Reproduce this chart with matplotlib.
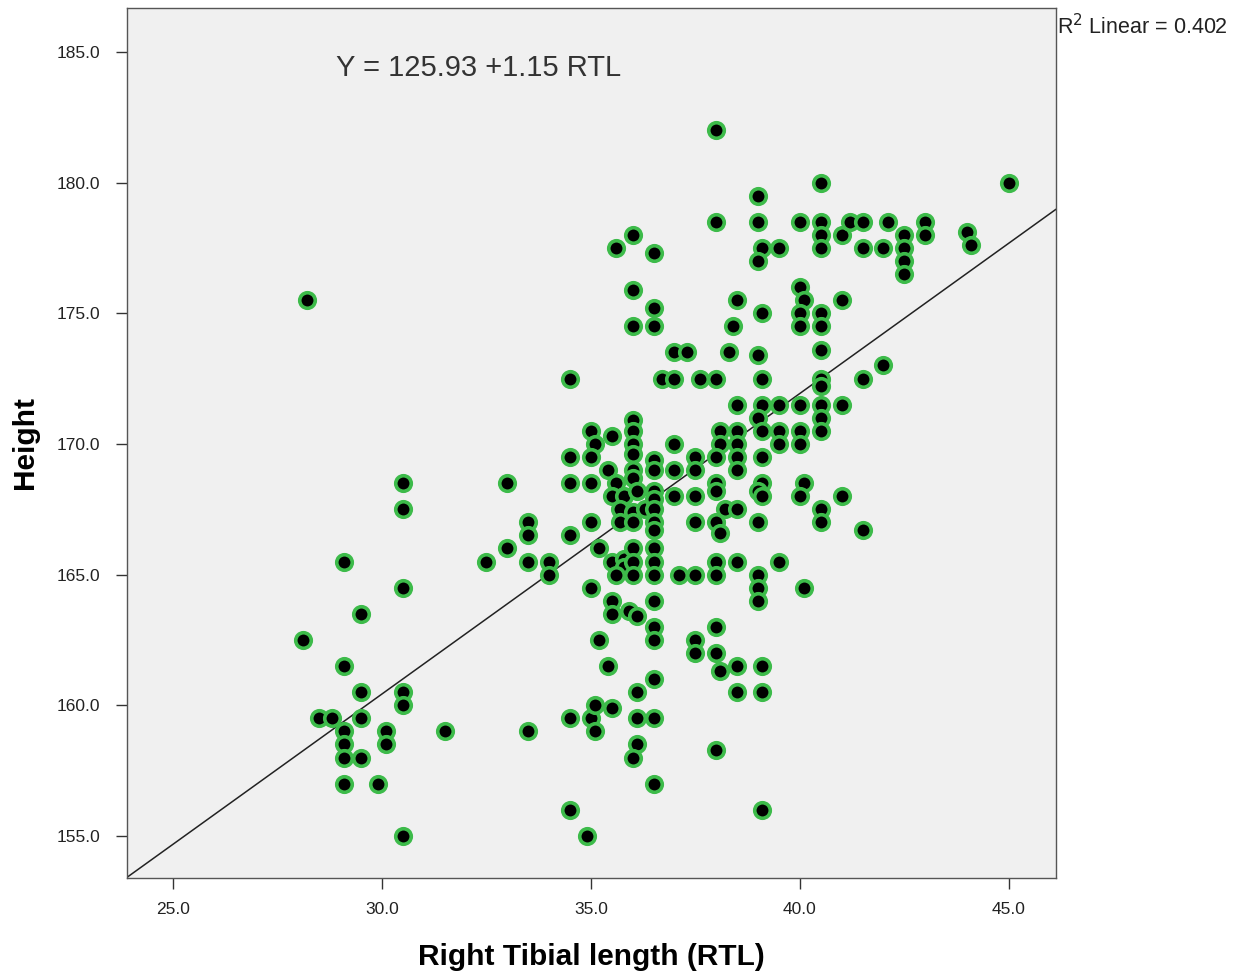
import numpy as np
import matplotlib.pyplot as plt

plt.rcParams['font.family'] = ['Liberation Sans', 'DejaVu Sans']

# Right tibial length (cm) and height (cm)
rtl = [
    28.2, 28.1, 29.1, 29.1, 29.5, 29.5, 28.5, 28.8, 29.5, 29.1, 29.1, 29.1, 29.5, 29.1, 29.9, 30.1, 30.1,
    30.5, 30.5, 30.5, 30.5, 30.5, 30.5, 31.5,
    32.5, 33.0, 33.0, 33.5, 33.5, 33.5, 33.5, 34.0, 34.0, 34.5, 34.5, 34.5, 34.5, 34.5, 34.5, 34.9,
    35.0, 35.1, 35.0, 35.0, 35.0, 35.0, 35.0, 35.1, 35.1, 35.2, 35.2,
    35.5, 35.4, 35.6, 35.5, 35.8, 35.7, 35.7, 35.5, 35.8, 35.8, 35.6, 35.5, 35.5, 35.4, 35.5, 35.6,
    36.0, 36.0, 36.0, 36.0, 36.0, 36.0, 36.0, 36.0, 36.0, 36.1, 36.0, 36.0, 36.0, 36.0, 36.0, 35.9,
    36.1, 36.1, 36.1, 36.1, 36.0, 36.3,
    36.5, 36.5, 36.5, 36.5, 36.5, 36.5, 36.5, 36.5, 36.5, 36.5, 36.5, 36.5, 36.5, 36.5, 36.5, 36.5,
    36.5, 36.5, 36.5,
    36.7, 37.0, 37.0, 37.3, 37.0, 37.0, 37.0, 37.1,
    37.6, 37.5, 37.5, 37.5, 37.5, 37.5, 37.5, 37.5,
    38.0, 38.0, 38.0, 38.1, 38.1, 38.0, 38.0, 38.0, 38.2, 38.0, 38.1, 38.0, 38.0, 38.0, 38.0, 38.1, 38.0,
    38.3, 38.5, 38.4, 38.5, 38.5, 38.5, 38.5, 38.5, 38.5, 38.5, 38.5, 38.5,
    39.0, 39.0, 39.1, 39.0, 39.1, 39.0, 39.1, 39.1, 39.0, 39.1, 39.1, 39.1, 39.0, 39.1, 39.0, 39.0,
    39.0, 39.0, 39.1, 39.1, 39.1,
    39.5, 39.5, 39.5, 39.5, 39.5,
    40.0, 40.0, 40.1, 40.0, 40.0, 40.0, 40.0, 40.0, 40.1, 40.0, 40.1,
    40.5, 40.5, 40.5, 40.5, 40.5, 40.5, 40.5, 40.5, 40.5, 40.5, 40.5, 40.5, 40.5, 40.5,
    41.0, 41.2, 41.5, 41.5, 41.0, 41.0, 41.0, 41.5, 41.5, 42.0, 42.1, 42.0, 42.5, 42.5, 42.5, 42.5,
    43.0, 43.0, 44.0, 44.1, 45.0,
]
height = [
    175.5, 162.5, 165.5, 161.5, 163.5, 160.5, 159.5, 159.5, 159.5, 159.0, 158.5, 158.0, 158.0, 157.0, 157.0, 159.0, 158.5,
    168.5, 167.5, 164.5, 160.5, 160.0, 155.0, 159.0,
    165.5, 166.0, 168.5, 167.0, 166.5, 165.5, 159.0, 165.5, 165.0, 172.5, 169.5, 168.5, 166.5, 159.5, 156.0, 155.0,
    170.5, 170.0, 169.5, 168.5, 167.0, 164.5, 159.5, 160.0, 159.0, 166.0, 162.5,
    170.3, 169.0, 168.5, 168.0, 168.0, 167.5, 167.0, 165.5, 165.6, 165.3, 165.0, 164.0, 163.5, 161.5, 159.9, 177.5,
    178.0, 175.9, 174.5, 170.9, 170.5, 170.0, 169.6, 169.0, 168.7, 168.2, 167.4, 167.0, 166.0, 165.5, 165.0, 163.6,
    163.4, 160.5, 159.5, 158.5, 158.0, 167.5,
    177.3, 175.2, 174.5, 169.4, 169.0, 168.2, 167.9, 167.5, 167.0, 166.7, 166.0, 165.5, 165.0, 164.0, 163.0, 162.5,
    161.0, 159.5, 157.0,
    172.5, 172.5, 173.5, 173.5, 170.0, 169.0, 168.0, 165.0,
    172.5, 169.5, 169.0, 168.0, 167.0, 165.0, 162.5, 162.0,
    182.0, 178.5, 172.5, 170.5, 170.0, 169.5, 168.5, 168.2, 167.5, 167.0, 166.6, 165.5, 165.0, 163.0, 162.0, 161.3, 158.3,
    173.5, 175.5, 174.5, 171.5, 170.5, 170.0, 169.5, 169.0, 167.5, 165.5, 161.5, 160.5,
    179.5, 178.5, 177.5, 177.0, 175.0, 173.4, 172.5, 171.5, 171.0, 170.5, 169.5, 168.5, 168.2, 168.0, 167.0, 165.0,
    164.5, 164.0, 161.5, 160.5, 156.0,
    177.5, 171.5, 170.5, 170.0, 165.5,
    178.5, 176.0, 175.5, 175.0, 174.5, 171.5, 170.5, 170.0, 168.5, 168.0, 164.5,
    180.0, 178.5, 178.0, 177.5, 175.0, 174.5, 173.6, 172.5, 172.2, 171.5, 171.0, 170.5, 167.5, 167.0,
    178.0, 178.5, 178.5, 177.5, 175.5, 171.5, 168.0, 172.5, 166.7, 177.5, 178.5, 173.0, 178.0, 177.5, 177.0, 176.5,
    178.5, 178.0, 178.1, 177.6, 180.0,
]

intercept = 125.93
slope = 1.15
r2 = 0.402

fig = plt.figure(figsize=(12.39, 9.72), dpi=100)
ax = fig.add_axes([0.1025, 0.0967, 0.7495, 0.8951])
ax.set_facecolor('#f0f0f0')

ax.scatter(rtl, height, s=125, c='black', edgecolors='#3dbb4a', linewidths=2.6, zorder=3)
ax.axline((0, intercept), slope=slope, color='#222222', linewidth=1.1, zorder=2)

ax.set_xlim(23.9, 46.12)
ax.set_ylim(153.39, 186.68)
ax.set_xticks([25, 30, 35, 40, 45])
ax.set_yticks([155, 160, 165, 170, 175, 180, 185])
ax.xaxis.set_major_formatter(plt.FormatStrFormatter('%.1f'))
ax.yaxis.set_major_formatter(plt.FormatStrFormatter('%.1f'))
ax.tick_params(direction='out', length=8, width=1, pad=11, colors='#333333', labelsize=12.5, labelcolor='#222222')
ax.tick_params(axis='x', pad=9)
for sp in ax.spines.values():
    sp.set_color('#555555')
    sp.set_linewidth(1.0)

ax.set_xlabel('Right Tibial length (RTL)', fontsize=21.5, fontweight='bold', labelpad=19)
ax.set_ylabel('Height', fontsize=21.5, fontweight='bold', labelpad=13)

ax.text(28.9, 184.4, 'Y = 125.93 +1.15 RTL', fontsize=21, color='#333333', va='center', ha='left')
fig.text(0.853, 0.973, r'R$^2$ Linear = %.3f' % r2, fontsize=15.5, color='#222222', va='center', ha='left')

plt.savefig('out.png', dpi=100)
